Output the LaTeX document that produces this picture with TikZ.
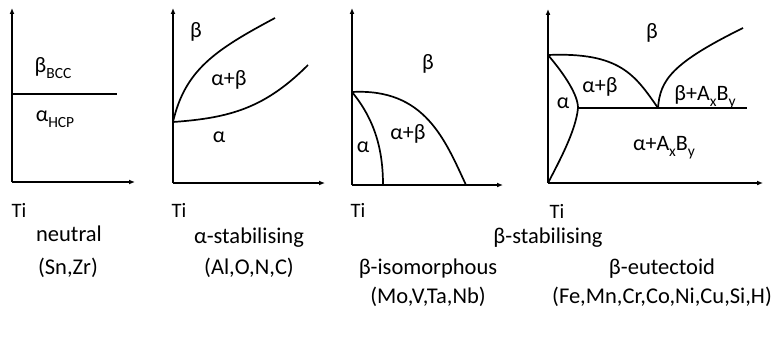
\documentclass[tikz,border=0pt]{standalone}
\usepackage{fontspec}
\setmainfont{Carlito}
\usetikzlibrary{arrows.meta}
\newcommand\lowsub[1]{\raisebox{-0.28em}{\fontsize{15.5}{16}\selectfont #1}}
\begin{document}
\begin{tikzpicture}[x=1pt,y=-1pt,
  ax/.style={line width=1.7pt,-{Latex[length=6pt,width=5pt]}},
  bd/.style={line width=1.7pt},
  lab/.style={font=\fontsize{22}{25}\selectfont,inner sep=0pt},
  ti/.style={font=\fontsize{20.5}{23}\selectfont,inner sep=0pt,anchor=base},
  captext/.style={font=\fontsize{22.5}{25}\selectfont,inner sep=0pt,anchor=base}]
\useasboundingbox (0,0) rectangle (776,337);
% panel 1
\coordinate (o1) at (12,182);
\coordinate (t1) at (12,8);
\coordinate (r1) at (135,182);
\draw[ax] (o1) -- (t1);
\draw[ax] (o1) -- (r1);
\coordinate (h1a) at (12,94);
\coordinate (h1b) at (117,94);
\draw[bd] (h1a) -- (h1b);
\node[lab] (b1) at (53,68) {β\lowsub{BCC}};
\node[lab] (a1) at (55,119) {α\lowsub{HCP}};
% panel 2
\coordinate (o2) at (173,183);
\coordinate (t2) at (173,8);
\coordinate (r2) at (325,183);
\draw[ax] (o2) -- (t2);
\draw[ax] (o2) -- (r2);
\coordinate (p2) at (173,122);
\coordinate (e2a) at (275,18);
\coordinate (e2b) at (308,65);
\draw[bd] (p2) .. controls (185,70) and (215,50) .. (e2a);
\draw[bd] (p2) .. controls (230,118) and (265,108) .. (e2b);
\node[lab] (b2) at (196,32) {β};
\node[lab] (ab2) at (229,80) {α+β};
\node[lab] (a2) at (219,137) {α};
% panel 3
\coordinate (o3) at (352,185);
\coordinate (t3) at (352,8);
\coordinate (r3) at (503,185);
\draw[ax] (o3) -- (t3);
\draw[ax] (o3) -- (r3);
\coordinate (p3) at (352,92);
\coordinate (e3a) at (466,185);
\coordinate (e3b) at (383,185);
\draw[bd] (p3) .. controls (425,88) and (445,140) .. (e3a);
\draw[bd] (p3) .. controls (375,120) and (383,150) .. (e3b);
\node[lab] (b3) at (428,64) {β};
\node[lab] (a3) at (363,147) {α};
\node[lab] (ab3) at (408,134) {α+β};
% panel 4
\coordinate (o4) at (548,183);
\coordinate (t4) at (548,9);
\coordinate (r4) at (763,183);
\draw[ax] (o4) -- (t4);
\draw[ax] (o4) -- (r4);
\coordinate (p4) at (548,55);
\coordinate (eu) at (658,108);
\coordinate (al) at (578,108);
\coordinate (hr) at (747,108);
\coordinate (e4) at (743,28);
\draw[bd] (p4) .. controls (620,52) and (635,75) .. (eu);
\draw[bd] (p4) .. controls (565,75) and (578,95) .. (al) .. controls (576,130) and (560,160) .. (o4);
\draw[bd] (al) -- (hr);
\draw[bd] (eu) .. controls (660,80) and (672,63) .. (e4);
\node[lab] (b4) at (652,33) {β};
\node[lab] (ab4) at (600,87) {α+β};
\node[lab] (a4) at (563,103) {α};
\node[lab] (bab4) at (705,97) {β+A\lowsub{x}B\lowsub{y}};
\node[lab] (aab4) at (664,148) {α+A\lowsub{x}B\lowsub{y}};
% captions
\node[ti] (ti1) at (19,217) {Ti};
\node[ti] (ti2) at (179,217) {Ti};
\node[ti] (ti3) at (358,217) {Ti};
\node[ti] (ti4) at (557,218) {Ti};
\node[captext] (c1) at (69,241) {neutral};
\node[captext] (c2) at (249,243) {α-stabilising};
\node[captext] (c3) at (548,243) {β-stabilising};
\node[captext] (d1) at (68,274) {(Sn,Zr)};
\node[captext] (d2) at (249,274) {(Al,O,N,C)};
\node[captext] (d3) at (428,274) {β-isomorphous};
\node[captext] (d4) at (662,274) {β-eutectoid};
\node[captext] (f3) at (428,303) {(Mo,V,Ta,Nb)};
\node[captext] (f4) at (662,303) {(Fe,Mn,Cr,Co,Ni,Cu,Si,H)};
\end{tikzpicture}
\end{document}
